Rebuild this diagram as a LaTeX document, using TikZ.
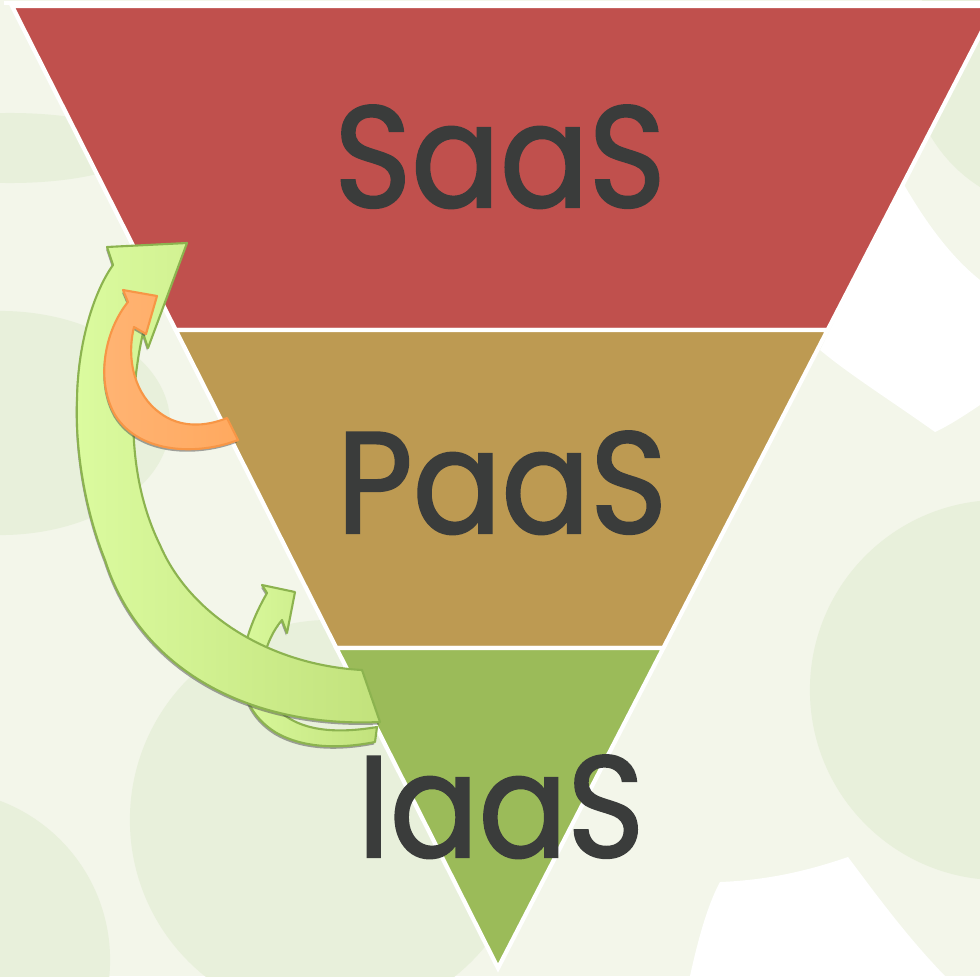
\documentclass[tikz,border=0pt]{standalone}
\usepackage{fontspec}
\setmainfont{Poppins}
\newfontfamily\layerfont{Poppins}[FakeStretch=0.91, FakeBold=1.6]
\usetikzlibrary{calc}

\definecolor{bgcream}{HTML}{F3F6EA}
\definecolor{bgtint}{HTML}{E8F0DB}
\definecolor{saascol}{HTML}{C0504D}
\definecolor{paascol}{HTML}{BD9A52}
\definecolor{iaascol}{HTML}{9BBB59}
\definecolor{labelgray}{HTML}{3A3C3B}
\definecolor{arrowlight}{HTML}{DBFB9F}
\definecolor{arrowdark}{HTML}{C2E27C}
\definecolor{arrowline}{HTML}{8CB34F}
\definecolor{orangelight}{HTML}{FFB474}
\definecolor{orangedark}{HTML}{FFA95F}
\definecolor{orangeline}{HTML}{F79646}

% arrow outlines, in pixel units of the picture
\newcommand{\smallarrowpath}{(375,742) .. controls (345,748) and (305,750) .. (275,732)
  .. controls (225,700) and (240,640) .. (267,593) -- (262,585) -- (295,592)
  -- (287,633) -- (282,620) .. controls (265,640) and (255,675) .. (270,700)
  .. controls (290,730) and (330,735) .. (377,727) -- cycle}
\newcommand{\bigarrowpath}{(380,722) .. controls (250,728) and (140,670) .. (105,560)
  .. controls (85,510) and (75,450) .. (77,399) .. controls (78,340) and (95,290) .. (113,265)
  -- (107,247) -- (187,243) -- (148,348) -- (143,333)
  .. controls (128,400) and (128,480) .. (160,545)
  .. controls (190,615) and (270,665) .. (362,670) -- cycle}
\newcommand{\cyclearrowpath}{(238,440) .. controls (200,455) and (140,455) .. (115,415)
  .. controls (95,380) and (105,330) .. (128,302) -- (123,290) -- (157,296)
  -- (146,334) -- (134,327) .. controls (126,360) and (135,395) .. (160,413)
  .. controls (180,428) and (205,427) .. (227,418) -- cycle}

\begin{document}
\begin{tikzpicture}[
  x=0.01cm, y=-0.01cm,
  band/.style={draw=white, line width=1.2pt, line join=miter},
  layer/.style={
    font=\layerfont\fontsize{41}{41}\selectfont,
    text=labelgray,
    anchor=base,
    inner sep=0pt
  },
  greenarrow/.style={left color=arrowlight, right color=arrowdark, draw=arrowline, line width=0.6pt, line join=round},
  orangearrow/.style={left color=orangelight, right color=orangedark, draw=orangeline, line width=0.6pt, line join=round},
  dropshadow/.style={fill=black!70, opacity=0.5, shift={(-1,2.5)}}
]

\useasboundingbox (0,0) rectangle (980,976);

% background
\begin{scope}
  \clip (0,0) rectangle (980,976);
  \fill[bgcream] (0,0) rectangle (980,976);
  \fill[bgtint] (10,148) ellipse [x radius=1.3cm, y radius=0.35cm];
  \fill[bgtint] (0,423) ellipse [x radius=1.7cm, y radius=1.12cm];
  \fill[bgtint] (330,820) circle [radius=2cm];
  \fill[bgtint] (-60,960) circle [radius=1.7cm];
  \fill[bgtint] (1000,690) circle [radius=1.9cm];
  \fill[bgtint] (1060,60) circle [radius=1.5cm];
  \fill[white] (903,183) .. controls (930,230) and (955,260) .. (980,280) -- (980,405)
    .. controls (965,415) and (950,425) .. (935,432) .. controls (890,400) and (850,375) .. (820,350) -- cycle;
  \fill[white] (690,976) .. controls (700,930) and (710,900) .. (720,882)
    .. controls (770,880) and (810,870) .. (848,857) .. controls (880,900) and (910,940) .. (945,976) -- cycle;
  \draw[white, line width=1.2pt] (4,3) -- (980,3);

  % inverted pyramid
  \coordinate (tl) at (12,6);
  \coordinate (tr) at (995,6);
  \coordinate (ap) at (498,968);
  \coordinate (l1) at ($(tl)!0.3368!(ap)$);
  \coordinate (r1) at ($(tr)!0.3368!(ap)$);
  \coordinate (l2) at ($(tl)!0.6674!(ap)$);
  \coordinate (r2) at ($(tr)!0.6674!(ap)$);
  \filldraw[band, fill=saascol] (tl) -- (tr) -- (r1) -- (l1) -- cycle;
  \filldraw[band, fill=paascol] (l1) -- (r1) -- (r2) -- (l2) -- cycle;
  \filldraw[band, fill=iaascol] (l2) -- (r2) -- (ap) -- cycle;
\end{scope}

\node[layer] (saas) at (500,207) {SaaS};
\node[layer] (paas) at (502,533) {PaaS};
\node[layer] (iaas) at (501,857) {IaaS};

% curved arrows
\fill[dropshadow] \smallarrowpath;
\shade[greenarrow] \smallarrowpath;
\fill[dropshadow] \bigarrowpath;
\shade[greenarrow] \bigarrowpath;
\fill[dropshadow] \cyclearrowpath;
\shade[orangearrow] \cyclearrowpath;

\end{tikzpicture}
\end{document}
